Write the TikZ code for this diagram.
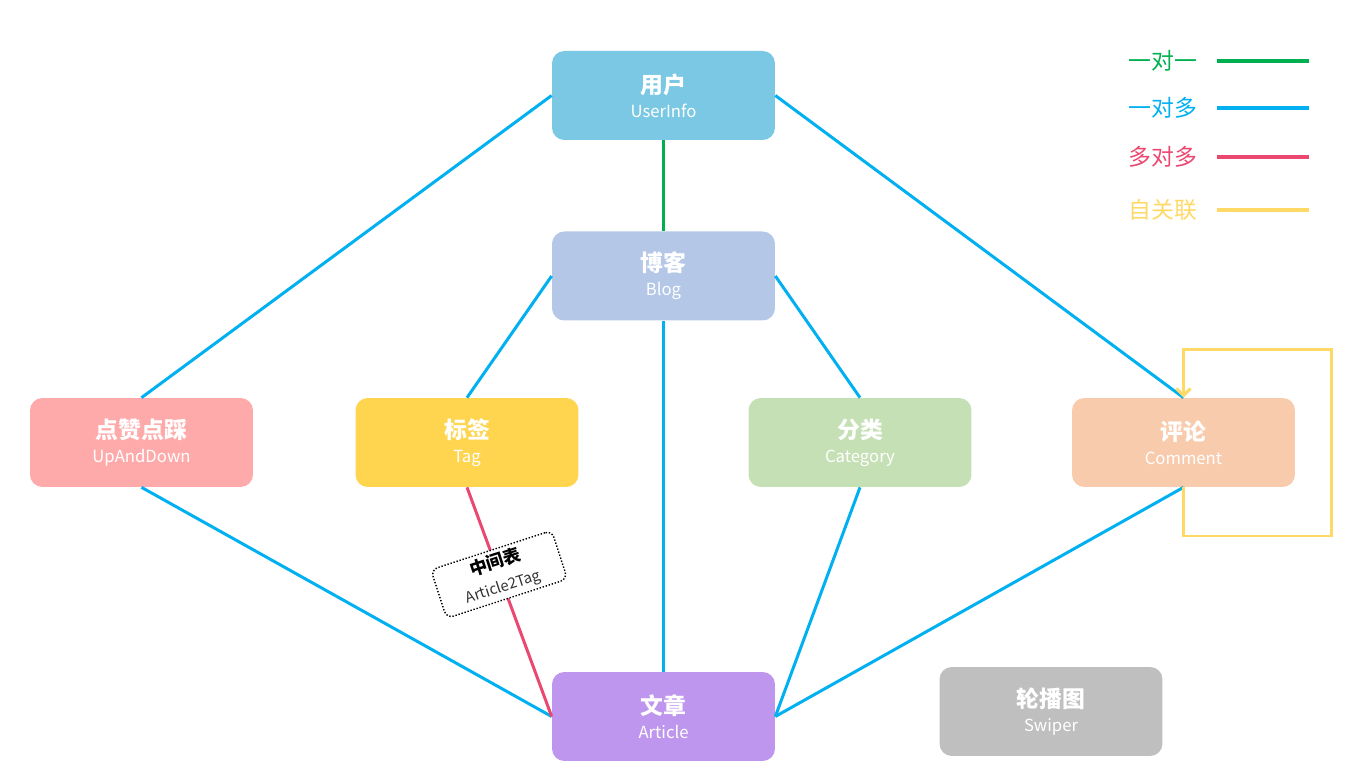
\documentclass[tikz,border=0pt]{standalone}
\usepackage{fontspec}
\newfontfamily\cjk{Noto Sans CJK SC}
\usetikzlibrary{positioning, calc, shapes, arrows.meta}

\definecolor{userblue}{RGB}{122,200,228}
\definecolor{blogblue}{RGB}{180,199,231}
\definecolor{updownred}{RGB}{255,170,170}
\definecolor{tagyellow}{RGB}{255,213,79}
\definecolor{catgreen}{RGB}{197,224,180}
\definecolor{commentorange}{RGB}{248,203,173}
\definecolor{articlepurple}{RGB}{190,150,238}
\definecolor{swipergray}{RGB}{191,191,191}
\definecolor{onegreen}{RGB}{0,176,80}
\definecolor{manyblue}{RGB}{0,176,240}
\definecolor{mmpink}{RGB}{234,72,112}
\definecolor{selfyellow}{RGB}{255,217,102}

\newcommand{\entity}[2]{{\fontsize{13pt}{15pt}\selectfont\bfseries #1}\\[1.5pt]{\fontsize{9.5pt}{11pt}\selectfont #2}}

\tikzset{
  entity/.style={rectangle, rounded corners=7pt, minimum width=4.46cm, minimum height=1.78cm, text=white, align=center, font=\cjk},
  oneline/.style={onegreen, line width=1.7pt},
  manyline/.style={manyblue, line width=1.7pt},
  mmline/.style={mmpink, line width=1.7pt},
  selfline/.style={selfyellow, line width=1.7pt},
  legtext/.style={font=\cjk\fontsize{13pt}{15pt}\selectfont, inner sep=0pt},
  midtable/.style={draw=black, text=black, densely dotted, thick, fill=white, rounded corners=4pt, rotate=18, minimum width=2.54cm, minimum height=1.02cm, align=center, inner sep=1pt, font=\cjk}
}

\begin{document}
\begin{tikzpicture}[x=0.02cm, y=0.02cm]
  \useasboundingbox (0,0) rectangle (1370,784);
  % entities
  \node[entity, fill=userblue] (user) at (663.5,688.5) {\entity{用户}{UserInfo}};
  \node[entity, fill=blogblue] (blog) at (663.5,508) {\entity{博客}{Blog}};
  \node[entity, fill=updownred] (updown) at (141.5,341.5) {\entity{点赞点踩}{UpAndDown}};
  \node[entity, fill=tagyellow] (tag) at (467,341.5) {\entity{标签}{Tag}};
  \node[entity, fill=catgreen] (category) at (860,341.5) {\entity{分类}{Category}};
  \node[entity, fill=commentorange] (comment) at (1183.5,341.5) {\entity{评论}{Comment}};
  \node[entity, fill=articlepurple] (article) at (663.5,67.5) {\entity{文章}{Article}};
  \node[entity, fill=swipergray] (swiper) at (1051,72.5) {\entity{轮播图}{Swiper}};
  % relations
  \draw[oneline] (user.south) -- (blog.north);
  \draw[manyline] (user.west) -- (updown.north);
  \draw[manyline] (user.east) -- (comment.north);
  \draw[manyline] (blog.west) -- (tag.north);
  \draw[manyline] (blog.south) -- (article.north);
  \draw[manyline] (blog.east) -- (category.north);
  \draw[manyline] (updown.south) -- (article.west);
  \draw[manyline] (category.south) -- (article.east);
  \draw[manyline] (comment.south) -- (article.east);
  \draw[mmline] (tag.south) -- node[midtable, pos=0.38] (midtag) {{\fontsize{10pt}{12pt}\selectfont\bfseries 中间表}\\[2pt]{\fontsize{8.5pt}{10pt}\selectfont\color{black!80} Article2Tag}} (article.west);
  % self relation
  \coordinate (loopbr) at (1331,248);
  \coordinate (looptr) at (1331,434);
  \draw[selfline, -{Straight Barb[length=4pt, width=8pt]}] (comment.south) |- (loopbr) -- (looptr) -| (comment.north);
  % legend
  \node[legtext, text=onegreen] (lgone) at (1163,723) {一对一};
  \node[legtext, text=manyblue] (lgmany) at (1163,676) {一对多};
  \node[legtext, text=mmpink] (lgmm) at (1163,627) {多对多};
  \node[legtext, text=selfyellow] (lgself) at (1163,574) {自关联};
  \coordinate (lgonea) at (1217,723);
  \coordinate (lgoneb) at (1309,723);
  \coordinate (lgmanya) at (1217,676);
  \coordinate (lgmanyb) at (1309,676);
  \coordinate (lgmma) at (1217,627);
  \coordinate (lgmmb) at (1309,627);
  \coordinate (lgselfa) at (1217,574);
  \coordinate (lgselfb) at (1309,574);
  \draw[oneline, line width=2.3pt] (lgonea) -- (lgoneb);
  \draw[manyline, line width=2.3pt] (lgmanya) -- (lgmanyb);
  \draw[mmline, line width=2.3pt] (lgmma) -- (lgmmb);
  \draw[selfline, line width=2.3pt] (lgselfa) -- (lgselfb);
\end{tikzpicture}
\end{document}
